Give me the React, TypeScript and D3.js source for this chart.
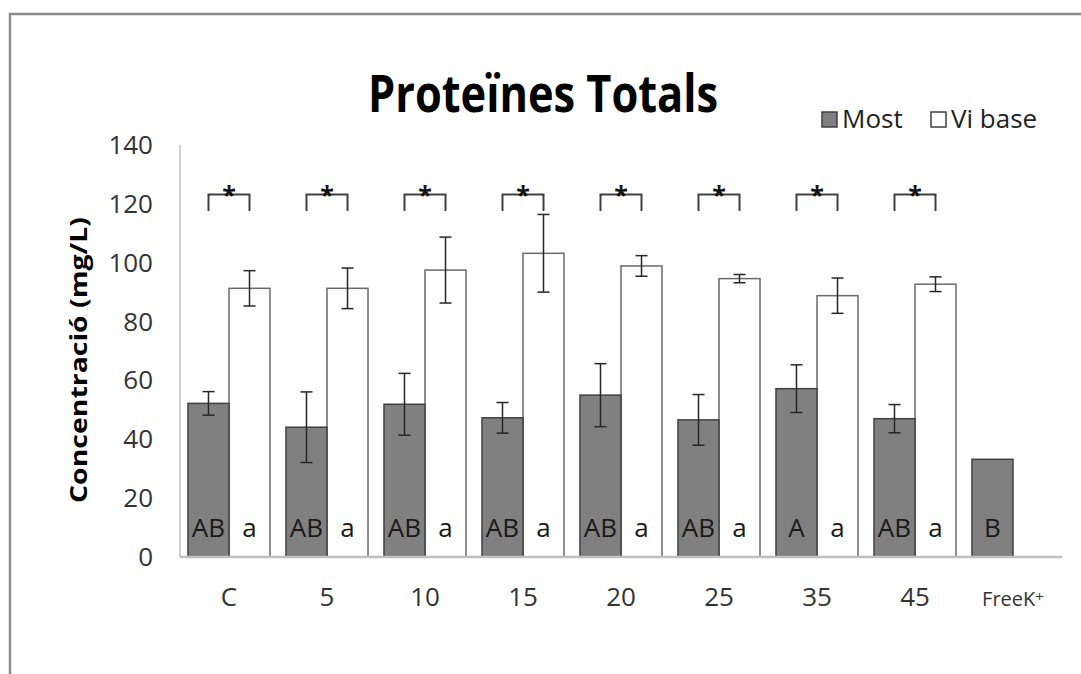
import { useEffect, useRef } from 'react';
import * as d3 from 'd3';

const categories = ['C', '5', '10', '15', '20', '25', '35', '45', 'FreeK+'];
const mostValues = [52.2, 44.1, 51.9, 47.3, 55.0, 46.6, 57.2, 47.0, 33.2];
const mostErrors = [4, 12, 10.5, 5.2, 10.7, 8.6, 8.1, 4.8, null];
const viValues = [91.3, 91.3, 97.5, 103.2, 98.9, 94.6, 88.8, 92.7, null];
const viErrors = [6, 6.9, 11.2, 13.2, 3.5, 1.4, 6, 2.5, null];
const mostLetters = ['AB', 'AB', 'AB', 'AB', 'AB', 'AB', 'A', 'AB', 'B'];
const viLetters = ['a', 'a', 'a', 'a', 'a', 'a', 'a', 'a', null];
const significant = [true, true, true, true, true, true, true, true, false];
const seriesNames = ['Most', 'Vi base'];
const yTicks = [0, 20, 40, 60, 80, 100, 120, 140];

const FONT = '"Open Sans", "Noto Sans", sans-serif';

export default function App() {
	const svgRef = useRef<SVGSVGElement>(null);

	useEffect(() => {
		if (!svgRef.current) return;
		const width = 1081;
		const height = 674;

		d3.select(svgRef.current).selectAll('*').remove();
		const svg = d3.select(svgRef.current).attr('width', width).attr('height', height);

		// Chart frame (runs off the page on the right and bottom)
		svg
			.append('rect')
			.attr('x', 10)
			.attr('y', 14)
			.attr('width', 1200)
			.attr('height', 800)
			.attr('fill', '#fff')
			.attr('stroke', '#8a8a8a')
			.attr('stroke-width', 2.5);

		// Scales
		const x0 = d3.scaleBand().domain(categories).range([180, 1062]).paddingInner(0.163).paddingOuter(0.0815);
		const x1 = d3.scaleBand().domain(seriesNames).range([0, x0.bandwidth()]);
		const y = d3.scaleLinear().domain([0, 140]).range([557, 145]);

		// Y tick labels
		svg
			.append('g')
			.selectAll('text')
			.data(yTicks)
			.enter()
			.append('text')
			.attr('x', 153)
			.attr('y', (d) => y(d) + 9)
			.attr('text-anchor', 'end')
			.style('font-family', FONT)
			.style('font-size', '26px')
			.style('fill', '#333')
			.text((d) => d);

		// Axis lines
		svg
			.append('line')
			.attr('x1', 180)
			.attr('x2', 180)
			.attr('y1', y(140))
			.attr('y2', y(0))
			.attr('stroke', '#c0c0c0')
			.attr('stroke-width', 1.5);

		const rows = categories.map((c, i) => ({
			cat: c,
			most: mostValues[i],
			mostErr: mostErrors[i],
			vi: viValues[i],
			viErr: viErrors[i],
			mostLetter: mostLetters[i],
			viLetter: viLetters[i],
			sig: significant[i],
		}));

		const groups = svg
			.append('g')
			.selectAll('g')
			.data(rows)
			.enter()
			.append('g')
			.attr('transform', (d) => `translate(${x0(d.cat)},0)`);

		// Vi base bars
		groups
			.filter((d) => d.vi != null)
			.append('rect')
			.attr('x', x1('Vi base')!)
			.attr('y', (d) => y(d.vi!))
			.attr('width', x1.bandwidth())
			.attr('height', (d) => y(0) - y(d.vi!))
			.attr('fill', '#fff')
			.attr('stroke', '#6a6a6a')
			.attr('stroke-width', 1.5);

		// Most bars
		groups
			.append('rect')
			.attr('x', x1('Most')!)
			.attr('y', (d) => y(d.most))
			.attr('width', x1.bandwidth())
			.attr('height', (d) => y(0) - y(d.most))
			.attr('fill', '#808080')
			.attr('stroke', '#404040')
			.attr('stroke-width', 1.5);

		// X axis line (over bar bottoms)
		svg
			.append('line')
			.attr('x1', 180)
			.attr('x2', 1062)
			.attr('y1', y(0))
			.attr('y2', y(0))
			.attr('stroke', '#c0c0c0')
			.attr('stroke-width', 2.5);

		// Error bars
		const drawError = (sel: any, series: string, val: (d: any) => number, err: (d: any) => number) => {
			const cx = x1(series)! + x1.bandwidth() / 2;
			const g = sel.append('g').attr('stroke', '#262626').attr('stroke-width', 1.5);
			g.append('line')
				.attr('x1', cx)
				.attr('x2', cx)
				.attr('y1', (d: any) => y(val(d) + err(d)))
				.attr('y2', (d: any) => y(val(d) - err(d)));
			[1, -1].forEach((s) => {
				g.append('line')
					.attr('x1', cx - 6)
					.attr('x2', cx + 6)
					.attr('y1', (d: any) => y(val(d) + s * err(d)))
					.attr('y2', (d: any) => y(val(d) + s * err(d)));
			});
		};
		drawError(
			groups.filter((d) => d.mostErr != null),
			'Most',
			(d) => d.most,
			(d) => d.mostErr
		);
		drawError(
			groups.filter((d) => d.viErr != null),
			'Vi base',
			(d) => d.vi,
			(d) => d.viErr
		);

		// Letters inside bars
		groups
			.append('text')
			.attr('x', x1('Most')! + x1.bandwidth() / 2)
			.attr('y', y(10) + 9)
			.attr('text-anchor', 'middle')
			.style('font-family', FONT)
			.style('font-size', '26px')
			.style('fill', '#1a1a1a')
			.text((d) => d.mostLetter);
		groups
			.filter((d) => d.viLetter != null)
			.append('text')
			.attr('x', x1('Vi base')! + x1.bandwidth() / 2)
			.attr('y', y(10) + 9)
			.attr('text-anchor', 'middle')
			.style('font-family', FONT)
			.style('font-size', '26px')
			.style('fill', '#1a1a1a')
			.text((d) => d.viLetter!);

		// Significance brackets
		const sigGroups = groups.filter((d) => d.sig);
		const bx1 = x1('Most')! + x1.bandwidth() / 2;
		const bx2 = x1('Vi base')! + x1.bandwidth() / 2;
		sigGroups
			.append('path')
			.attr('d', `M${bx1},${y(117.6)}V${y(123.2)}H${bx2}V${y(117.6)}`)
			.attr('fill', 'none')
			.attr('stroke', '#404040')
			.attr('stroke-width', 2);
		sigGroups
			.append('text')
			.attr('x', x0.bandwidth() / 2)
			.attr('y', y(123.2) + 10)
			.attr('text-anchor', 'middle')
			.style('font-family', FONT)
			.style('font-weight', 'bold')
			.style('font-size', '25px')
			.style('fill', '#111')
			.text('*');

		// Category labels
		svg
			.append('g')
			.selectAll('text')
			.data(categories)
			.enter()
			.append('text')
			.attr('x', (d) => x0(d)! + x0.bandwidth() / 2)
			.attr('y', 606)
			.attr('text-anchor', 'middle')
			.style('font-family', FONT)
			.style('font-size', (d) => (d === 'FreeK+' ? '20px' : '26px'))
			.style('fill', '#333')
			.each(function (d) {
				const t = d3.select(this);
				if (d === 'FreeK+') {
					t.append('tspan').text('FreeK');
					t.append('tspan').attr('dy', -4).style('font-size', '15px').text('+');
				} else {
					t.text(d);
				}
			});

		// Title
		svg
			.append('text')
			.attr('x', 543)
			.attr('y', 112)
			.attr('text-anchor', 'middle')
			.attr('textLength', 350)
			.attr('lengthAdjust', 'spacingAndGlyphs')
			.style('font-family', FONT)
			.style('font-weight', 'bold')
			.style('font-size', '52px')
			.style('fill', '#000')
			.text('Proteïnes Totals');

		// Y axis title
		svg
			.append('text')
			.attr('transform', 'translate(87,360) rotate(-90)')
			.attr('text-anchor', 'middle')
			.attr('textLength', 286)
			.attr('lengthAdjust', 'spacingAndGlyphs')
			.style('font-family', FONT)
			.style('font-weight', 'bold')
			.style('font-size', '24px')
			.style('fill', '#000')
			.text('Concentració (mg/L)');

		// Legend
		const legend = [
			{ name: 'Most', fill: '#808080', stroke: '#404040', x: 822 },
			{ name: 'Vi base', fill: '#fff', stroke: '#404040', x: 931 },
		];
		const lg = svg
			.append('g')
			.selectAll('g')
			.data(legend)
			.enter()
			.append('g')
			.attr('transform', (d) => `translate(${d.x},112)`);
		lg.append('rect')
			.attr('width', 15)
			.attr('height', 15)
			.attr('fill', (d) => d.fill)
			.attr('stroke', (d) => d.stroke)
			.attr('stroke-width', 1.5);
		lg.append('text')
			.attr('x', 20)
			.attr('y', 16)
			.style('font-family', FONT)
			.style('font-size', '26px')
			.style('fill', '#222')
			.text((d) => d.name);
	}, []);

	return (
		<div style={{ position: 'absolute', left: 0, top: 0 }}>
			<svg ref={svgRef}></svg>
		</div>
	);
}
